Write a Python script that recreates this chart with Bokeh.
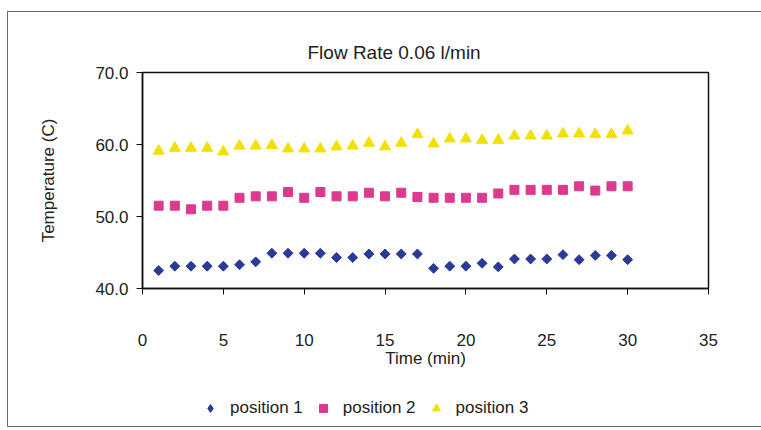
from bokeh.plotting import figure
from bokeh.layouts import column
from bokeh.models import Range1d, Legend, LegendItem, PrintfTickFormatter, FixedTicker
from bokeh.embed import file_html
from bokeh.resources import INLINE

time_min = list(range(1, 31))
position_1 = [42.5, 43.1, 43.1, 43.1, 43.1, 43.3, 43.7, 44.9, 44.9, 44.9,
              44.9, 44.3, 44.3, 44.8, 44.8, 44.8, 44.8, 42.8, 43.1, 43.1,
              43.5, 43.0, 44.1, 44.1, 44.1, 44.7, 44.0, 44.6, 44.6, 44.0]
position_2 = [51.5, 51.5, 51.0, 51.5, 51.5, 52.6, 52.8, 52.8, 53.4, 52.6,
              53.4, 52.8, 52.8, 53.3, 52.8, 53.3, 52.7, 52.6, 52.6, 52.6,
              52.6, 53.2, 53.7, 53.7, 53.7, 53.7, 54.2, 53.6, 54.2, 54.2]
position_3 = [59.1, 59.5, 59.5, 59.5, 59.0, 59.8, 59.8, 59.9, 59.4, 59.4,
              59.4, 59.7, 59.8, 60.2, 59.7, 60.2, 61.4, 60.1, 60.8, 60.8,
              60.6, 60.6, 61.2, 61.2, 61.2, 61.5, 61.5, 61.4, 61.4, 61.9]
series_names = ["position 1", "position 2", "position 3"]
x_ticks = [0, 5, 10, 15, 20, 25, 30, 35]
y_ticks = [40, 50, 60, 70]
title_text = "Flow Rate 0.06 l/min"

FONT = "Liberation Sans"
TXT = "#222222"
STYLES = [
    dict(marker="square", angle=0.785, size=7, fill_color="#2B3A96", line_color="#2B3A96"),
    dict(marker="square", size=9, fill_color="#DC3A8E", line_color="#DC3A8E"),
    dict(marker="triangle", size=11, fill_color="#F2E000", line_color="#F2E000"),
]
KEY_STYLES = [
    dict(marker="diamond", size=11, fill_color="#2B3A96", line_color="#2B3A96"),
    STYLES[1],
    STYLES[2],
]
SERIES = [position_1, position_2, position_3]

p = figure(width=761, height=380, output_backend="svg", toolbar_location=None,
           x_range=Range1d(0, 35), y_range=Range1d(40, 70),
           min_border_left=142, min_border_right=53, min_border_top=72, min_border_bottom=92,
           title=title_text)
p.background_fill_color = "white"
p.border_fill_color = None
p.outline_line_color = "#111111"
p.outline_line_width = 1.5
p.grid.visible = False

p.title.align = "left"
p.title.offset = 165
p.title.standoff = 20
p.title.text_font = FONT
p.title.text_font_size = "19px"
p.title.text_font_style = "normal"
p.title.text_color = TXT

p.xaxis.ticker = FixedTicker(ticks=x_ticks)
p.yaxis.ticker = FixedTicker(ticks=y_ticks)
p.yaxis.formatter = PrintfTickFormatter(format="%.1f")
for ax in (p.xaxis[0], p.yaxis[0]):
    ax.axis_line_color = "#111111"
    ax.axis_line_width = 1.5
    ax.major_tick_line_color = "#111111"
    ax.major_tick_out = 6
    ax.major_tick_in = 0
    ax.minor_tick_out = 0
    ax.minor_tick_in = 0
    ax.major_label_text_font = FONT
    ax.major_label_text_font_size = "17px"
    ax.major_label_text_color = TXT
    ax.axis_label_text_font = FONT
    ax.axis_label_text_font_size = "17px"
    ax.axis_label_text_font_style = "normal"
    ax.axis_label_text_color = TXT
p.xaxis.axis_label = "Time (min)"
p.yaxis.axis_label = "Temperature (C)"
p.xaxis.major_label_standoff = 39
p.xaxis.axis_label_standoff = 0
p.yaxis.major_label_standoff = 8
p.yaxis.axis_label_standoff = 34

for ys, st in zip(SERIES, STYLES):
    p.scatter(time_min, ys, **st)

# legend strip below the chart (its data lie outside its ranges, only the key is seen)
lg = figure(width=761, height=50, output_backend="svg", toolbar_location=None,
            x_range=Range1d(-10, -9), y_range=Range1d(-10, -9),
            min_border_left=0, min_border_right=0, min_border_top=0, min_border_bottom=0)
lg.axis.visible = False
lg.grid.visible = False
lg.outline_line_color = None
lg.background_fill_color = None
lg.border_fill_color = None
items = []
for name, ys, st in zip(series_names, SERIES, KEY_STYLES):
    r = lg.scatter(time_min, ys, **st)
    items.append(LegendItem(label=name, renderers=[r]))
legend = Legend(items=items, orientation="horizontal", location=(58, 12),
                glyph_width=20, glyph_height=20, label_standoff=10, spacing=10,
                padding=0, margin=0, border_line_alpha=0, background_fill_alpha=0,
                label_text_font=FONT, label_text_font_size="17px", label_text_color=TXT)
lg.add_layout(legend)

# outer chart-area border (top, left, bottom; the right side runs off the picture)
g = "linear-gradient(#6a6a6a, #6a6a6a)"
layout = column(p, lg, spacing=0, styles={
    "background-image": f"{g}, {g}, {g}",
    "background-size": "754px 1px, 754px 1px, 1px 416px",
    "background-position": "7px 11px, 7px 426px, 7px 11px",
    "background-repeat": "no-repeat",
})

open("out.html", "w").write(file_html(layout, INLINE))
